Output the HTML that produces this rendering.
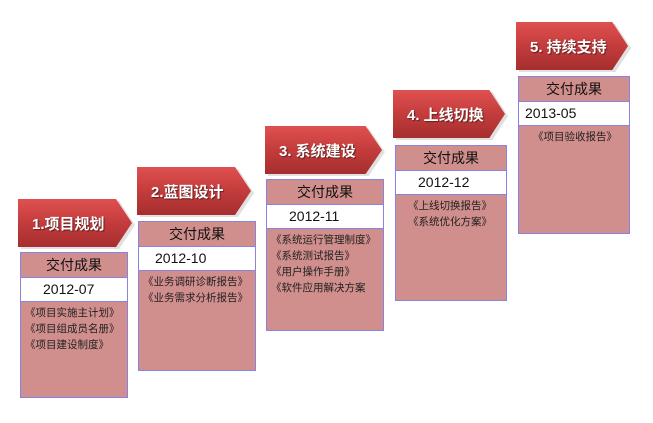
<!DOCTYPE html>
<html><head><meta charset="utf-8"><style>
body{margin:0;width:653px;height:423px;background:#fff;position:relative;overflow:hidden;font-family:"Liberation Sans","Noto Sans CJK SC",sans-serif}
.ar{position:absolute;height:48px;clip-path:polygon(0 0,86% 0,100% 50%,86% 100%,0 100%);background:linear-gradient(#e05050,#c43c3c 50%,#a52e2e);color:#fff;font-weight:bold;font-size:15px;line-height:52px;padding-left:14px;box-sizing:border-box;text-shadow:1px 1px 1px #602020}
.sh{position:absolute;height:48px;background:#ccc;clip-path:polygon(0 0,86% 0,100% 50%,86% 100%,0 100%);opacity:.6}
.bx{position:absolute;background:#d08e8c;border:1px solid #8a82e0;box-sizing:border-box}
.hd{height:24px;line-height:24px;text-align:center;font-size:14px;color:#111;border-bottom:1px solid #8a82e0}
.dt{height:23px;line-height:23px;background:#fff;font-size:14px;color:#111;border-bottom:1px solid #8a82e0;padding-left:22px}
.tx{font-size:10.5px;color:#222;line-height:16px;padding:3px 0 0 4px;white-space:nowrap}
</style></head><body>
<div class="sh" style="left:21px;top:201px;width:114px"></div>
<div class="ar" style="left:18px;top:199px;width:114px">1.项目规划</div>
<div class="bx" style="left:20px;top:252px;width:108px;height:146px"><div class="hd">交付成果</div><div class="dt">2012-07</div><div class="tx">《项目实施主计划》<br>《项目组成员名册》<br>《项目建设制度》</div></div>

<div class="sh" style="left:140px;top:169px;width:114px"></div>
<div class="ar" style="left:137px;top:167px;width:114px">2.蓝图设计</div>
<div class="bx" style="left:138px;top:221px;width:118px;height:150px"><div class="hd">交付成果</div><div class="dt" style="padding-left:16px">2012-10</div><div class="tx">《业务调研诊断报告》<br>《业务需求分析报告》</div></div>

<div class="sh" style="left:268px;top:128px;width:117px"></div>
<div class="ar" style="left:265px;top:126px;width:117px">3. 系统建设</div>
<div class="bx" style="left:266px;top:179px;width:118px;height:152px"><div class="hd">交付成果</div><div class="dt">2012-11</div><div class="tx">《系统运行管理制度》<br>《系统测试报告》<br>《用户操作手册》<br>《软件应用解决方案</div></div>

<div class="sh" style="left:396px;top:92px;width:112px"></div>
<div class="ar" style="left:393px;top:90px;width:112px">4. 上线切换</div>
<div class="bx" style="left:395px;top:145px;width:112px;height:156px"><div class="hd">交付成果</div><div class="dt">2012-12</div><div class="tx" style="padding-left:12px">《上线切换报告》<br>《系统优化方案》</div></div>

<div class="sh" style="left:519px;top:24px;width:112px"></div>
<div class="ar" style="left:516px;top:22px;width:112px">5. 持续支持</div>
<div class="bx" style="left:518px;top:76px;width:112px;height:158px"><div class="hd">交付成果</div><div class="dt" style="padding-left:6px">2013-05</div><div class="tx" style="padding-left:14px">《项目验收报告》</div></div>
</body></html>
